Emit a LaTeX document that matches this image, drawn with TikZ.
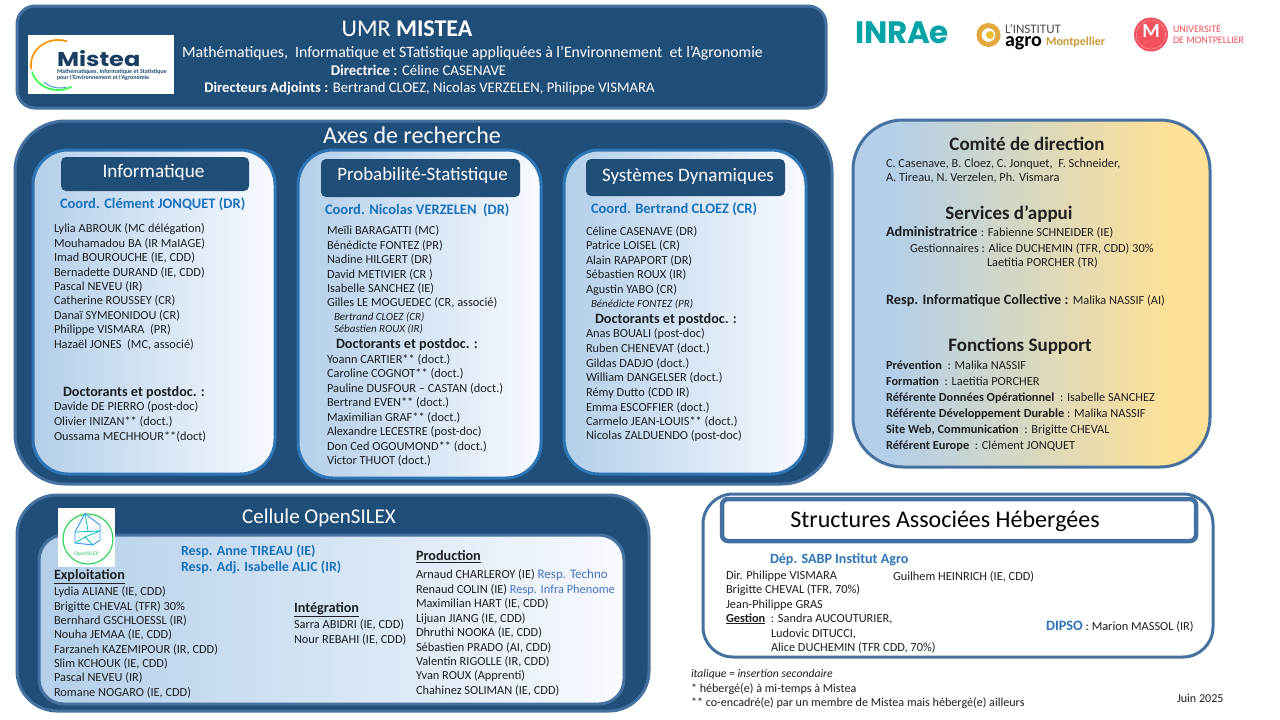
\documentclass[tikz,border=0pt]{standalone}
\usepackage{fontspec}
\setmainfont{Carlito}
\newfontfamily\logofont{Poppins}
\definecolor{navy}{HTML}{1F4E79}
\definecolor{edgeblue}{HTML}{44719F}
\definecolor{innerblue}{HTML}{2E75B6}
\definecolor{coord}{HTML}{1872BE}
\definecolor{sabp}{HTML}{2E75B6}
\definecolor{techno}{HTML}{4472C4}
\definecolor{gl}{HTML}{B3CFEA}
\definecolor{gr}{HTML}{F8FAFE}
\definecolor{gold}{HTML}{FFE195}
\definecolor{inrae}{HTML}{00A3A6}
\definecolor{agro}{HTML}{E3A83B}
\definecolor{um}{HTML}{F4515F}
\pgfdeclarehorizontalshading{bluegold}{100bp}{color(0bp)=(gl);color(30bp)=(gl);color(70bp)=(gold);color(100bp)=(gold)}
\newcounter{tc}
\newcommand\fs[1]{\fontsize{#1}{#1}\selectfont}
\newcommand\tx[4][]{\stepcounter{tc}\node[txt,#1] (t\arabic{tc}) at (#2,#3+4.2) {#4};}
\newcommand\tc[4][]{\stepcounter{tc}\node[txt,anchor=base,#1] (t\arabic{tc}) at (#2,#3+4.2) {#4};}
\tikzset{
 txt/.style={anchor=base west,inner sep=0pt,outer sep=0pt,font=\fs{12.35},text=black!88},
 wh/.style={text=white},
 dark/.style={draw=edgeblue,line width=3pt,fill=navy},
 card/.style={draw=innerblue,line width=3pt,left color=gl,right color=gr},
 tab/.style={fill=navy,rounded corners=5pt},
 co/.style={font=\fs{14.5}\bfseries,text=coord},
 it/.style={font=\fs{11}\itshape},
 sub/.style={font=\fs{14.2}\bfseries},
 big/.style={font=\fs{19}\bfseries},
}
\begin{document}
\begin{tikzpicture}[x=1pt,y=-1pt]
\useasboundingbox (0,0) rectangle (1280,720);
\fill[white] (0,0) rectangle (1280,720);
% Header
\draw[dark,rounded corners=18pt] (17,6) rectangle (826,108);
\fill[white] (28,35) rectangle (174,94);
\draw[line width=1.7pt,orange!85!yellow] plot[smooth,domain=70:190,samples=30] ({58+27*cos(\x)},{65-25*sin(\x)});
\draw[line width=1.7pt,green!70!yellow!70!cyan] plot[smooth,domain=195:300,samples=30] ({58+27*cos(\x)},{65-25*sin(\x)});
\draw[line width=1pt,cyan!60!blue!70] plot[smooth,domain=230:285,samples=20] ({60+25*cos(\x)},{63-25*sin(\x)});
\tx[font={\logofont\fs{20}\bfseries},text=navy!80!black,xscale=1.2,transform shape]{57}{61.8}{Mistea}
\tx[font=\fs{6}\bfseries,text=navy]{57}{69.5}{Mathématiques, Informatique et Statistique}
\tx[font=\fs{6}\bfseries,text=navy]{57}{75.5}{pour l'Environnement et l'Agronomie}
\tc[wh,font=\fs{24}]{407}{32}{UMR \textbf{MISTEA}}
\tc[wh,font=\fs{15.8}]{472.5}{53.5}{Mathématiques,\ \ Informatique et STatistique appliquées à l’Environnement\ \ et l’Agronomie}
\tc[wh,font=\fs{14.8}]{418.5}{71}{\textbf{Directrice :} Céline CASENAVE}
\tc[wh,font=\fs{14.7}]{429.5}{88}{\textbf{Directeurs Adjoints :} Bertrand CLOEZ, Nicolas VERZELEN, Philippe VISMARA}
% Logos
\tx[font={\logofont\fs{31}\bfseries},text=inrae]{855}{39}{INRA\kern-1pt e}
\draw[agro,line width=5pt] (988.5,35) circle (9.5);
\fill[agro!75!yellow] (990,35) circle (4);
\tx[font=\fs{13},text=black!70]{1005}{29.5}{L’INSTITUT}
\tx[font={\fs{20}\bfseries},text=black]{1005}{42}{agro}
\tx[font={\fs{12}\bfseries},text=agro!90!black]{1046}{41}{Montpellier}
\fill[um] (1151,34.5) circle (17);
\draw[white,densely dotted,line width=.5pt] (1151,34.5) circle (14.5);
\tc[font=\fs{20}\bfseries,text=white]{1151}{33}{M}
\tx[font=\fs{10},text=um]{1173}{28}{UNIVERSITÉ}
\tx[font=\fs{10},text=um]{1173}{39}{DE MONTPELLIER}
% Axes
\draw[dark,rounded corners=50pt] (15,121) rectangle (832,484);
\tc[wh,font=\fs{24}]{412}{139.5}{Axes de recherche}
\draw[card,rounded corners=35pt] (33,150) rectangle (275,474);
\draw[card,rounded corners=35pt] (298,150) rectangle (541,478);
\draw[card,rounded corners=35pt] (564,150) rectangle (806,474);
\fill[tab] (61,157) rectangle (249,191);
\fill[tab] (321,159) rectangle (520,197);
\fill[tab] (586,159) rectangle (785,196);
\tc[wh,font=\fs{19.2}]{153.5}{173.5}{Informatique}
\tc[wh,font=\fs{18.9}]{422.5}{176.5}{Probabilité-Statistique}
\tc[wh,font=\fs{19}]{688}{177.5}{Systèmes Dynamiques}
\tx[co]{60}{204}{Coord. Clément JONQUET (DR)}
\tx[co]{325}{210}{Coord. Nicolas VERZELEN\ \ (DR)}
\tx[co]{591}{209}{Coord. Bertrand CLOEZ (CR)}
% Informatique
\tx{54}{228}{Lylia ABROUK (MC délégation)}
\tx{54}{243}{Mouhamadou BA (IR MaIAGE)}
\tx{54}{257}{Imad BOUROUCHE (IE, CDD)}
\tx{54}{272}{Bernadette DURAND (IE, CDD)}
\tx{54}{286}{Pascal NEVEU (IR)}
\tx{54}{300}{Catherine ROUSSEY (CR)}
\tx{54}{315}{Danaï SYMEONIDOU (CR)}
\tx{54}{329}{Philippe VISMARA\ \ (PR)}
\tx{54}{344}{Hazaël JONES\ \ (MC, associé)}
\tx[sub]{63}{392}{Doctorants et postdoc. :}
\tx{54}{406}{Davide DE PIERRO (post-doc)}
\tx{54}{421}{Olivier INIZAN** (doct.)}
\tx{54}{436}{Oussama MECHHOUR**(doct)}
% Proba
\tx{327}{230}{Meïli BARAGATTI (MC)}
\tx{327}{245}{Bénédicte FONTEZ (PR)}
\tx{327}{259}{Nadine HILGERT (DR)}
\tx{327}{274}{David METIVIER (CR )}
\tx{327}{288}{Isabelle SANCHEZ (IE)}
\tx{327}{302}{Gilles LE MOGUEDEC (CR, associé)}
\tx[it]{334}{316}{Bertrand CLOEZ (CR)}
\tx[it]{334}{328}{Sébastien ROUX (IR)}
\tx[sub]{336}{344.5}{Doctorants et postdoc. :}
\tx{327}{359}{Yoann CARTIER** (doct.)}
\tx{327}{373}{Caroline COGNOT** (doct.)}
\tx{327}{388}{Pauline DUSFOUR – CASTAN (doct.)}
\tx{327}{402}{Bertrand EVEN** (doct.)}
\tx{327}{417}{Maximilian GRAF** (doct.)}
\tx{327}{431}{Alexandre LECESTRE (post-doc)}
\tx{327}{446}{Don Ced OGOUMOND** (doct.)}
\tx{327}{460}{Victor THUOT (doct.)}
% Systemes
\tx{586}{231}{Céline CASENAVE (DR)}
\tx{586}{245}{Patrice LOISEL (CR)}
\tx{586}{260}{Alain RAPAPORT (DR)}
\tx{586}{274}{Sébastien ROUX (IR)}
\tx{586}{289}{Agustin YABO (CR)}
\tx[it]{591}{303}{Bénédicte FONTEZ (PR)}
\tx[sub]{595}{319.5}{Doctorants et postdoc. :}
\tx{586}{333}{Anas BOUALI (post-doc)}
\tx{586}{348}{Ruben CHENEVAT (doct.)}
\tx{586}{363}{Gildas DADJO (doct.)}
\tx{586}{377}{William DANGELSER (doct.)}
\tx{586}{392}{Rémy Dutto (CDD IR)}
\tx{586}{407}{Emma ESCOFFIER (doct.)}
\tx{586}{421}{Carmelo JEAN-LOUIS** (doct.)}
\tx{586}{435}{Nicolas ZALDUENDO (post-doc)}
% Right panel
\draw[draw=edgeblue,line width=3pt,shading=bluegold,shading angle=0,rounded corners=50pt] (853,120) rectangle (1210,467);
\tc[big]{1027}{146.5}{Comité de direction}
\tx{886}{163}{C. Casenave, B. Cloez, C. Jonquet,\ \ F. Schneider,}
\tx{886}{177}{A. Tireau, N. Verzelen, Ph. Vismara}
\tc[big]{1009}{215.5}{Services d’appui}
\tx{886}{232}{\fs{14.3}\textbf{Administratrice} \fs{12.35}: Fabienne SCHNEIDER (IE)}
\tx{910}{248}{Gestionnaires : Alice DUCHEMIN (TFR, CDD) 30\%}
\tx{987}{262}{Laetitia PORCHER (TR)}
\tx{886}{300}{\fs{14.3}\textbf{Resp. Informatique Collective :} \fs{12.35}Malika NASSIF (AI)}
\tc[big]{1020}{347.5}{Fonctions Support}
\tx{886}{365}{\textbf{Prévention}\ \ : Malika NASSIF}
\tx{886}{381}{\textbf{Formation}\ \ : Laetitia PORCHER}
\tx{886}{397}{\textbf{Référente Données Opérationnel}\ \ : Isabelle SANCHEZ}
\tx{886}{413}{\textbf{Référente Développement Durable}\ : Malika NASSIF}
\tx{886}{429}{\textbf{Site Web, Communication}\ \ : Brigitte CHEVAL}
\tx{886}{445}{\textbf{Référent Europe}\ \ : Clément JONQUET}
% OpenSILEX
\draw[dark,rounded corners=40pt] (17,495) rectangle (649,711);
\tc[wh,font=\fs{21}]{319}{519.5}{Cellule OpenSILEX}
\draw[draw=edgeblue,line width=3pt,left color=gl,right color=gr,rounded corners=25pt] (39,535) rectangle (624,704);
\fill[white] (58,508) rectangle (115,567);
\draw[green!60!teal!80,line width=1.2pt] (88,539) circle (25);
\draw[blue!50!cyan!80,line width=.9pt] (85,513.5) -- (100,525) -- (100,540) -- (93,545) -- (75,543) -- (75,532) -- cycle;
\draw[teal!50!cyan,line width=.8pt] (75,532) -- (100,531) -- (85,537) -- (93,545) (75,543) -- (85,537) (85,513.5) -- (88,531);
\tc[font=\fs{5.5}\bfseries,text=green!45!teal!60]{86.5}{551}{OpenSILEX}
\tx[co,font=\fs{14}\bfseries]{181}{551}{Resp. Anne TIREAU (IE)}
\tx[co,font=\fs{14}\bfseries]{181}{567}{Resp. Adj. Isabelle ALIC (IR)}
\tx[sub]{54}{575}{\underline{Exploitation}}
\tx{54}{591}{Lydia ALIANE (IE, CDD)}
\tx{54}{606}{Brigitte CHEVAL (TFR) 30\%}
\tx{54}{620}{Bernhard GSCHLOESSL (IR)}
\tx{54}{634}{Nouha JEMAA (IE, CDD)}
\tx{54}{649}{Farzaneh KAZEMIPOUR (IR, CDD)}
\tx{54}{663}{Slim KCHOUK (IE, CDD)}
\tx{54}{677}{Pascal NEVEU (IR)}
\tx{54}{692}{Romane NOGARO (IE, CDD)}
\tx[sub]{294}{608}{\underline{Intégration}}
\tx{294}{624}{Sarra ABIDRI (IE, CDD)}
\tx{294}{639}{Nour REBAHI (IE, CDD)}
\tx[sub]{416}{556}{\underline{Production}}
\tx{416}{574}{Arnaud CHARLEROY (IE) {\color{techno}\fs{13}Resp. Techno}}
\tx{416}{589}{Renaud COLIN (IE) {\color{techno}Resp. Infra Phenome}}
\tx{416}{603}{Maximilian HART (IE, CDD)}
\tx{416}{618}{Lijuan JIANG (IE, CDD)}
\tx{416}{632}{Dhruthi NOOKA (IE, CDD)}
\tx{416}{647}{Sébastien PRADO (AI, CDD)}
\tx{416}{661}{Valentin RIGOLLE (IR, CDD)}
\tx{416}{675}{Yvan ROUX (Apprenti)}
\tx{416}{690}{Chahinez SOLIMAN (IE, CDD)}
% Structures
\draw[draw=edgeblue,line width=3pt,fill=white,rounded corners=30pt] (703,494) rectangle (1213,657);
\draw[draw=edgeblue,line width=4.5pt,fill=white,rounded corners=6pt] (722,499) rectangle (1196,541);
\tc[font=\fs{24},text=black]{945}{523.5}{Structures Associées Hébergées}
\tx[font=\fs{14.1}\bfseries,text=sabp]{770}{559.5}{Dép. SABP Institut Agro}
\tx{726}{575}{Dir. Philippe VISMARA}
\tx{893}{576}{Guilhem HEINRICH (IE, CDD)}
\tx{726}{589}{Brigitte CHEVAL (TFR, 70\%)}
\tx{726}{604}{Jean-Philippe GRAS}
\tx{726}{618}{\textbf{\underline{Gestion}}\ \ : Sandra AUCOUTURIER,}
\tx{771}{633}{Ludovic DITUCCI,}
\tx{771}{647}{Alice DUCHEMIN (TFR CDD, 70\%)}
\tx{1046}{626}{{\fs{14.3}\bfseries\color{sabp}DIPSO} : Marion MASSOL (IR)}
% Footer
\tx[font=\fs{11.7}\itshape]{691}{673}{italique = insertion secondaire}
\tx[font=\fs{12.1}]{691}{688}{* hébergé(e) à mi-temps à Mistea}
\tx[font=\fs{12.1}]{691}{702}{** co-encadré(e) par un membre de Mistea mais hébergé(e) ailleurs}
\tx[font=\fs{12.1}]{1177}{698}{Juin 2025}
\end{tikzpicture}
\end{document}
